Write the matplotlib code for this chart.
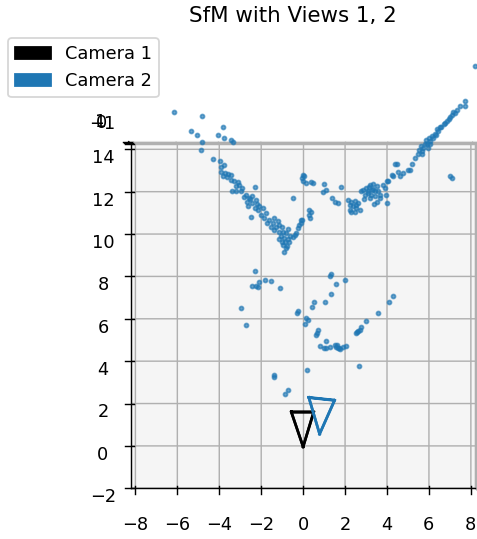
import matplotlib
matplotlib.use("Agg")
import matplotlib.pyplot as plt
import matplotlib.patches as mpatches
import numpy as np

# reconstructed 3D points, top view (x horizontal, z = depth vertical)
pts_x = [
    -6.13, -4.8, -5.3, -5.05, -4.8, -4.86, -3.78, -4.03, -3.73, -3.43, -3.32, -4.29, -3.92, -3.76, -3.9,
    -3.9, -3.7, -3.55, -3.4, -3.8, -3.6,
    -3.43, -3.27, -3.03, -3.19, -2.88, -3.35, -3.19, -3.1, -2.95,
    -2.71, -2.56, -2.4, -2.64, -2.4, -2.24, -2.08, -2.16, -1.92, -2.48, -2.0, -1.76, -1.84, -2.6, -2.3, -2.5, -2.8, -2.2,
    -1.6, -1.45, -1.52, -1.29, -1.13, -1.37, -1.13, -0.97, -0.81, -1.05, -0.89, -1.13, -0.73, -0.84, -0.97, -0.65,
    -0.89, -0.8, -1.2, -1.7, -1.4, -1.0, -0.7, -0.6, -1.0, -0.75,
    -2.28, -0.46,
    -0.5, -0.33, -0.26, -0.18, -0.1, -0.05, -0.1, -0.4,
    0.3, 0.38, 0.27, 0.33,
    -0.02, -0.05, 0.01, 0.14, 0.38, 0.46, 0.06,
    1.01, 1.1, 0.93, 1.81, 1.38, 1.49, 1.65,
    2.12, 2.29, 2.44, 2.2, 2.36, 2.52, 2.29, 2.44, 2.68, 2.6, 2.2, 2.5,
    2.84, 3.0, 3.16, 3.32, 3.48, 3.24, 3.4, 3.08, 2.92, 3.55, 3.63, 3.63, 3.48, 3.16, 2.76,
    3.1, 3.3, 3.2, 3.4, 2.9, 3.35, 3.05,
    3.95, 4.19, 4.43, 3.87, 3.92, 3.95, 4.27, 4.03, 3.79, 4.35,
    4.74, 4.98, 5.14, 5.3, 5.46, 5.62, 5.7, 5.86, 6.01, 6.17, 6.25, 6.41, 6.49, 6.65, 6.81,
    6.97, 7.12, 7.29, 7.41, 7.68, 7.68,
    5.6, 5.75, 5.9, 5.8, 6.0, 6.1, 6.3, 6.35, 6.55, 6.7, 6.9, 7.05, 7.2, 5.5, 5.65, 5.95, 4.6, 4.5, 5.06,
    6.97, 7.05, 8.16,
    -2.29, -2.43, -2.21, -2.16, -2.08, -1.8, -1.52, -1.1, -2.95, -2.71,
    1.33, 1.29, 2.0, 1.57, 1.33, 1.05, 0.51, 0.41, -0.26, -0.3, 0.14, 0.24, 0.09, 0.7, 0.65, 0.62, 1.1,
    0.81, 0.97, 1.06, 1.29, 1.49, 1.57, 1.65, 1.73, 1.89, 2.05, 1.6, 1.7,
    2.52, 2.6, 2.68, 2.73, 3.0, 3.55, 4.08, 4.24, 2.55,
    2.65, 0.19, -1.37, -1.37, -0.7, -0.86,
]
pts_z = [
    15.72, 15.5, 14.8, 14.6, 14.3, 13.9, 15.0, 14.6, 14.5, 14.4, 14.3, 13.5, 13.4, 13.2, 13.1,
    12.9, 12.85, 12.8, 12.75, 12.7, 12.65,
    12.53, 12.45, 12.29, 12.21, 12.13, 11.98, 11.98, 12.4, 12.0,
    11.82, 11.66, 11.74, 11.5, 11.42, 11.58, 11.27, 11.1, 11.18, 10.79, 10.87, 10.95, 10.71, 11.3, 11.2, 11.6, 11.7, 11.4,
    10.63, 10.47, 10.32, 10.32, 10.39, 10.16, 10.08, 10.08, 10.0, 9.89, 9.8, 9.76, 9.76, 9.6, 9.45, 9.6,
    9.15, 9.3, 10.6, 10.5, 10.75, 10.3, 10.2, 9.9, 9.6, 9.4,
    12.2, 11.66,
    9.84, 10.0, 10.24, 10.39, 10.63, 10.63, 10.47, 9.95,
    11.1, 11.03, 10.87, 10.74,
    12.76, 12.6, 12.45, 12.37, 12.42, 12.37, 12.7,
    12.34, 12.05, 11.93, 12.17, 11.66, 11.47, 11.42,
    11.58, 11.5, 11.53, 11.34, 11.27, 11.34, 11.03, 11.0, 11.1, 11.42, 11.1, 11.2,
    12.05, 12.13, 12.29, 12.32, 12.21, 12.05, 11.98, 11.9, 11.82, 11.98, 11.82, 11.66, 11.5, 11.66, 11.98,
    12.2, 12.1, 11.8, 11.75, 11.6, 11.4, 12.0,
    12.45, 12.76, 13.24, 12.13, 11.82, 11.42, 12.69, 12.45, 12.29, 13.24,
    12.84, 13.0, 13.24, 13.55, 13.71, 13.87, 14.03, 14.19, 14.35, 14.5, 14.66, 14.82, 14.98, 15.13, 15.29,
    15.45, 15.69, 15.77, 15.96, 16.2, 16.0,
    14.1, 14.2, 14.0, 14.4, 14.2, 14.55, 14.6, 14.9, 15.0, 15.2, 15.35, 15.55, 15.65, 13.9, 13.75, 14.5, 12.7, 12.9, 13.0,
    12.69, 12.6, 17.85,
    8.23, 7.55, 7.55, 7.49, 7.71, 7.83, 7.76, 7.46, 6.51, 5.7,
    8.1, 8.02, 7.8, 7.63, 7.14, 6.79, 6.79, 6.57, 6.37, 6.29, 6.05, 5.94, 5.77, 5.46, 5.34, 5.26, 4.98,
    4.71, 4.63, 4.61, 4.68, 4.79, 4.68, 4.61, 4.58, 4.68, 4.74, 4.75, 4.65,
    5.34, 5.42, 5.46, 5.63, 5.88, 6.26, 6.81, 7.05, 5.38,
    3.79, 3.59, 3.36, 3.26, 2.65, 2.46,
]

# camera frustums: apex then the four image-plane corners (x, z, height)
cam1_apex = (0.0, 0.0, 0.0)
cam1_corners = [(-0.56, 1.63, -0.4), (0.5, 1.63, -0.4), (0.5, 1.63, 0.4), (-0.56, 1.63, 0.4)]
cam2_apex = (0.78, 0.6, 0.0)
cam2_corners = [(0.27, 2.31, -0.4), (1.49, 2.18, -0.4), (1.49, 2.18, 0.4), (0.27, 2.31, 0.4)]

xticks = np.arange(-8, 9, 2)
yticks = np.arange(-2, 15, 2)
zticks = [-1, 0, 1]


def draw_camera(ax, apex, corners, color):
    for c in corners:
        ax.plot([apex[0], c[0]], [apex[1], c[1]], [apex[2], c[2]], color=color, lw=1.5)
    ring = corners + [corners[0]]
    ax.plot([c[0] for c in ring], [c[1] for c in ring], [c[2] for c in ring], color=color, lw=1.5)


fig = plt.figure(figsize=(477 / 128, 539 / 128), dpi=128)
ax = fig.add_axes([0.122, -0.041, 1.0, 0.885], projection='3d')

ax.scatter(pts_x, pts_z, 0, s=5, color='C0', alpha=0.65, depthshade=False, clip_on=False)
draw_camera(ax, cam1_apex, cam1_corners, 'black')
draw_camera(ax, cam2_apex, cam2_corners, 'C0')

ax.set_xlim(-8.21, 8.21)
ax.set_ylim(-1.75, 14.25)
ax.set_zlim(-1.2, 1.2)
ax.set_xticks(xticks)
ax.set_yticks(yticks)
ax.set_zticks(zticks)
ax.set_box_aspect((1, 1, 0.1))
ax.view_init(elev=90, azim=-90)

fig.suptitle("SfM with Views 1, 2", x=293 / 477, y=1 - 6 / 539, va='top')
handles = [mpatches.Patch(color='black', label='Camera 1'),
           mpatches.Patch(color='C0', label='Camera 2')]
fig.legend(handles=handles, loc='upper left', bbox_to_anchor=(8 / 477, 1 - 38 / 539), borderaxespad=0)

fig.savefig("out.png", dpi=128)
